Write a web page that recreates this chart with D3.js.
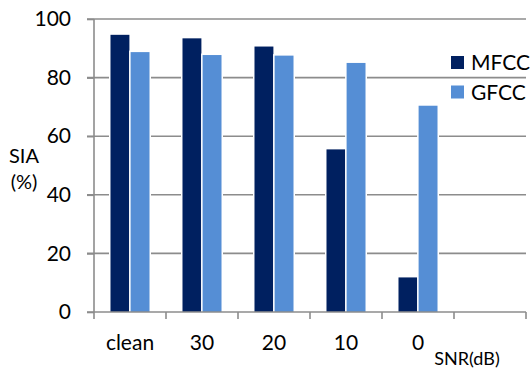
<!DOCTYPE html>
<html>
<head>
<meta charset="utf-8">
<script src="https://cdn.jsdelivr.net/npm/d3@7/dist/d3.min.js"></script>
<style>
  html, body { margin: 0; padding: 0; background: #fff; }
  svg { display: block; font-family: Lato, "Open Sans", sans-serif; }
</style>
</head>
<body>
<svg id="chart" width="531" height="370"></svg>
<script>
// Speaker identification accuracy by SNR condition
const categories = ["clean", "30", "20", "10", "0", ""];
const seriesNames = ["MFCC", "GFCC"];
const mfcc = [94.6, 93.4, 90.6, 55.5, 11.8];
const gfcc = [88.7, 87.7, 87.5, 85.0, 70.4];
const yTicks = [0, 20, 40, 60, 80, 100];
const colors = ["#002060", "#558ED5"];

const svg = d3.select("#chart");
const margin = { left: 94, right: 5, top: 19, bottom: 58 };
const W = 531, H = 370;

const x = d3.scaleBand().domain(categories)
  .range([margin.left, W - margin.right]).paddingInner(0).paddingOuter(0);
const y = d3.scaleLinear().domain([0, 100]).range([H - margin.bottom, margin.top]);
const xInner = d3.scaleBand().domain(seriesNames)
  .range([0, x.bandwidth()]).paddingInner(0.06).paddingOuter(0.82);

const gridColor = "#8c8c8c";

// horizontal gridlines with outward ticks
svg.append("g")
  .selectAll("line").data(yTicks.filter(d => d > 0)).join("line")
  .attr("x1", margin.left - 7).attr("x2", W - margin.right)
  .attr("y1", d => y(d)).attr("y2", d => y(d))
  .attr("stroke", gridColor).attr("stroke-width", 1.6);

// bars with white halo
const rows = categories.slice(0, mfcc.length).map((c, i) => ({ c, vals: [mfcc[i], gfcc[i]] }));
const groups = svg.append("g").selectAll("g").data(rows).join("g")
  .attr("transform", d => `translate(${x(d.c)},0)`);
const bars = groups.selectAll("g").data(d => d.vals.map((v, k) => ({ v, k }))).join("g");
bars.append("rect")
  .attr("x", d => xInner(seriesNames[d.k]) - 1.5)
  .attr("width", xInner.bandwidth() + 3)
  .attr("y", d => y(d.v) - 1.5)
  .attr("height", d => y(0) - y(d.v) + 1.5)
  .attr("fill", "#fff");
bars.append("rect")
  .attr("x", d => xInner(seriesNames[d.k]))
  .attr("width", xInner.bandwidth())
  .attr("y", d => y(d.v))
  .attr("height", d => y(0) - y(d.v))
  .attr("fill", d => colors[d.k]);

// y axis
const yAxis = svg.append("g").attr("transform", `translate(${margin.left},0)`)
  .call(d3.axisLeft(y).tickValues(yTicks).tickSize(7).tickPadding(16).tickFormat(d3.format("d")));
yAxis.select(".domain").attr("stroke", gridColor).attr("stroke-width", 1.6)
  .attr("d", `M0,${y(100)}V${y(0)}`);
yAxis.selectAll(".tick line").attr("stroke", gridColor).attr("stroke-width", 1.6);
yAxis.selectAll(".tick text").attr("font-size", 21).attr("fill", "#000")
  .attr("font-family", "Lato, sans-serif");

// x axis with tick marks at band boundaries
const xAxisG = svg.append("g").attr("transform", `translate(0,${y(0)})`);
xAxisG.append("line").attr("x1", margin.left - 7).attr("x2", W - margin.right)
  .attr("stroke", gridColor).attr("stroke-width", 1.6);
const bounds = categories.map(c => x(c)).concat([x(categories[categories.length - 1]) + x.bandwidth()]);
xAxisG.selectAll("line.tk").data(bounds).join("line").attr("class", "tk")
  .attr("x1", d => d).attr("x2", d => d).attr("y1", 0).attr("y2", 7)
  .attr("stroke", gridColor).attr("stroke-width", 1.6);
xAxisG.selectAll("text").data(categories).join("text")
  .attr("x", d => x(d) + x.bandwidth() / 2).attr("y", 38)
  .attr("text-anchor", "middle").attr("font-size", 21).attr("fill", "#000")
  .text(d => d);

// axis titles
svg.append("text").attr("x", 467).attr("y", 365).attr("text-anchor", "middle")
  .attr("font-size", 18).attr("fill", "#000").text("SNR(dB)");
const yt = svg.append("text").attr("text-anchor", "middle").attr("font-size", 20).attr("fill", "#000");
yt.append("tspan").attr("x", 24).attr("y", 163).text("SIA");
yt.append("tspan").attr("x", 24).attr("y", 189).text("(%)");

// legend
const legend = svg.append("g").selectAll("g").data(seriesNames).join("g")
  .attr("transform", (d, i) => `translate(451,${62.5 + i * 29.5})`);
legend.append("rect").attr("x", 0).attr("y", -6.5).attr("width", 13).attr("height", 13)
  .attr("fill", (d, i) => colors[i]);
legend.append("text").attr("x", 20).attr("y", 7.5).attr("font-size", 21).attr("fill", "#000")
  .text(d => d);
</script>
</body>
</html>
